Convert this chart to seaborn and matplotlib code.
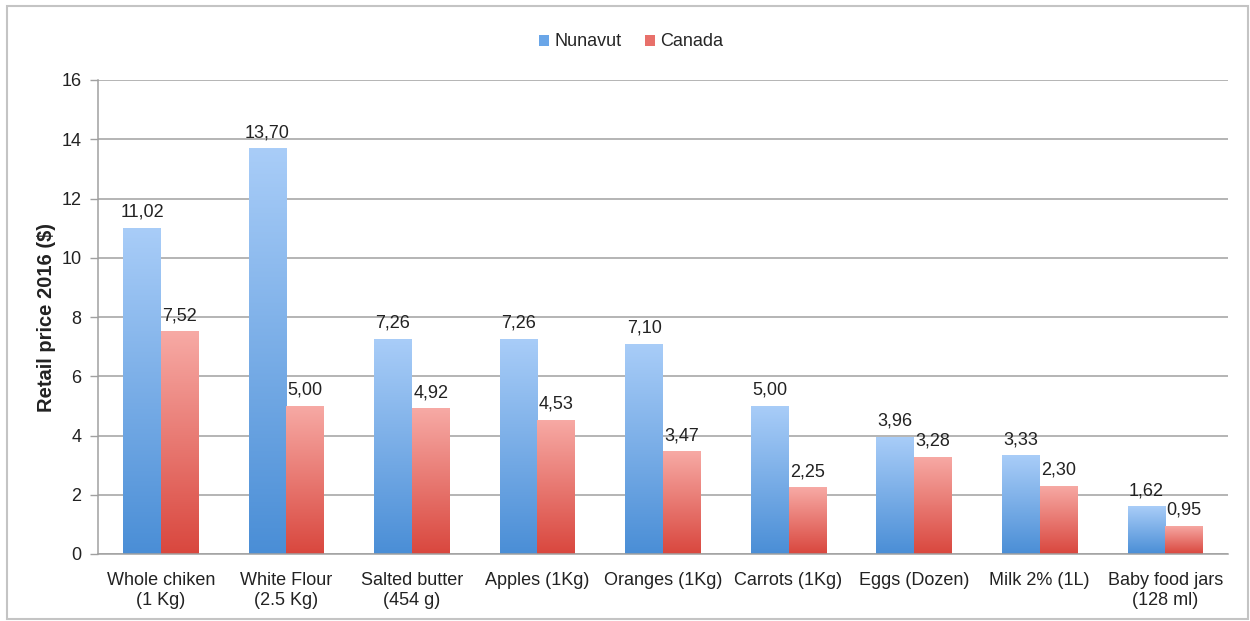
import numpy as np
import pandas as pd
import matplotlib
matplotlib.use("Agg")
import matplotlib.pyplot as plt
from matplotlib.colors import LinearSegmentedColormap
from matplotlib.patches import Patch, Rectangle
import seaborn as sns

# Retail prices (2016, $) for common food items
products = [
    "Whole chiken\n(1 Kg)",
    "White Flour\n(2.5 Kg)",
    "Salted butter\n(454 g)",
    "Apples (1Kg)",
    "Oranges (1Kg)",
    "Carrots (1Kg)",
    "Eggs (Dozen)",
    "Milk 2% (1L)",
    "Baby food jars\n(128 ml)",
]
nunavut = [11.02, 13.70, 7.26, 7.26, 7.10, 5.00, 3.96, 3.33, 1.62]
canada = [7.52, 5.00, 4.92, 4.53, 3.47, 2.25, 3.28, 2.30, 0.95]
regions = ["Nunavut", "Canada"]
yticks = [0, 2, 4, 6, 8, 10, 12, 14, 16]

df = pd.DataFrame({
    "product": products * 2,
    "region": [regions[0]] * len(products) + [regions[1]] * len(products),
    "price": nunavut + canada,
})

sns.set_theme(style="white")
plt.rcParams["font.family"] = ["Liberation Sans", "DejaVu Sans"]

FS = 13
W, H = 1250, 621
fig = plt.figure(figsize=(W / 100, H / 100), dpi=100)
ax = fig.add_axes([98 / W, 1 - 554 / H, 1130 / W, (554 - 80) / H])

base = {"Nunavut": "#4a8fd8", "Canada": "#d94b42"}
sns.barplot(data=df, x="product", y="price", hue="region", hue_order=regions,
            palette=base, width=0.6, ax=ax, legend=False, errorbar=None,
            saturation=1)

ax.set_ylim(0, 16)
ax.set_xlim(-0.5, len(products) - 0.5)
ax.set_autoscale_on(False)

# vertical gradient fills (light at the top, deeper at the base)
gradients = {
    "Nunavut": LinearSegmentedColormap.from_list("nv", ["#4a8ed6", "#a9cdf8"]),
    "Canada": LinearSegmentedColormap.from_list("ca", ["#d9473e", "#f7aaa5"]),
}
grad = np.linspace(0, 1, 256).reshape(-1, 1)
bars = list(ax.patches)
values = nunavut + canada
for i, bar in enumerate(bars):
    region = regions[0] if i < len(products) else regions[1]
    x, w, h = bar.get_x(), bar.get_width(), bar.get_height()
    bar.set_facecolor("none")
    bar.set_edgecolor("none")
    im = ax.imshow(grad, extent=[x, x + w, 0, h], origin="lower", aspect="auto",
                   cmap=gradients[region], zorder=2, interpolation="bilinear")
    im.set_clip_path(bar)
    label = f"{values[i]:.2f}".replace(".", ",")
    ax.annotate(label, (x + w / 2, h), xytext=(0, 5), textcoords="offset points",
                ha="center", va="bottom", fontsize=FS, color="#222222")

ax.set_yticks(yticks)
ax.set_yticklabels([str(t) for t in yticks], fontsize=FS, color="#222222")
ax.tick_params(axis="y", which="both", left=True, length=6, width=1,
               color="#a0a0a0", pad=6, direction="out")
ax.tick_params(axis="x", bottom=False, labelsize=FS, labelcolor="#222222", pad=7)
ax.grid(axis="y", color="#a0a0a0", linewidth=1.1, zorder=0)
ax.set_axisbelow(True)
for side in ("top", "right"):
    ax.spines[side].set_visible(False)
for side in ("left", "bottom"):
    ax.spines[side].set_color("#a0a0a0")
    ax.spines[side].set_linewidth(1.1)
ax.set_xlabel("")
ax.set_ylabel("Retail price 2016 ($)", fontsize=14.5, fontweight="bold",
              color="#222222", labelpad=4)

handles = [Patch(facecolor="#6aa6e8", edgecolor="none", label="Nunavut"),
           Patch(facecolor="#e8706a", edgecolor="none", label="Canada")]
fig.legend(handles=handles, loc="center", bbox_to_anchor=(631 / W, 1 - 42 / H),
           ncol=2, frameon=False, fontsize=FS, handlelength=0.55,
           handleheight=0.55, handletextpad=0.3, columnspacing=1.3)

fig.patches.append(Rectangle((7 / W, 2 / H), (W - 9) / W, (H - 8) / H,
                             transform=fig.transFigure, fill=False,
                             edgecolor="#c4c4c4", linewidth=1.5))

fig.savefig("out.png", dpi=100)
